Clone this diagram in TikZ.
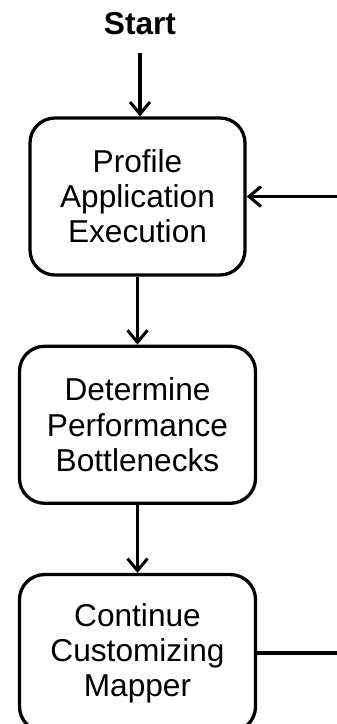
\documentclass[tikz,border=0pt]{standalone}
\usepackage{fontspec}
\setsansfont{Liberation Sans}
\usepackage{tikz}
\usetikzlibrary{arrows.meta,positioning}
\tikzstyle{every picture}+=[font=\sffamily]

\begin{document}
\begin{tikzpicture}
		[font=\sffamily\fontsize{27}{30}\selectfont, inner sep=0pt, line width=2.8pt,
		label/.style		= {font=\sffamily\bfseries\fontsize{27}{30}\selectfont},
		task/.style			= {draw, rectangle, rounded corners=7.5mm, align=center, minimum width=70.8mm, minimum height=47.1mm},
		first/.style		= {task, minimum width=64.5mm},
		flow/.style			= {-{Straight Barb[length=3.6mm,width=6mm,line width=2.6pt]}}]
		
		\useasboundingbox (0,0) rectangle (10.11,-21.72);
		\clip (0,0) rectangle (10.11,-21.72);
		
		\node [label]	at (4.2,-0.72)				(0)	{Start};
		\node [first]	at (4.125,-5.895)			(1)	{Profile\\Application\\Execution};
		\node [task]	[below = 20.4mm of 1]		(2)	{Determine\\Performance\\Bottlenecks};
		\node [task]	[below = 20.4mm of 2]		(3)	{Continue\\Customizing\\Mapper};
		
		\draw [flow, shorten <=5mm]	(0.south) -- (0.south |- 1.north);
		\draw [flow]	(1) -- (2);
		\draw [flow]	(2) -- (3);
		\draw [flow]	(3.east) -- ++(3,0) |- (1.east);
		\end{tikzpicture}
\end{document}
